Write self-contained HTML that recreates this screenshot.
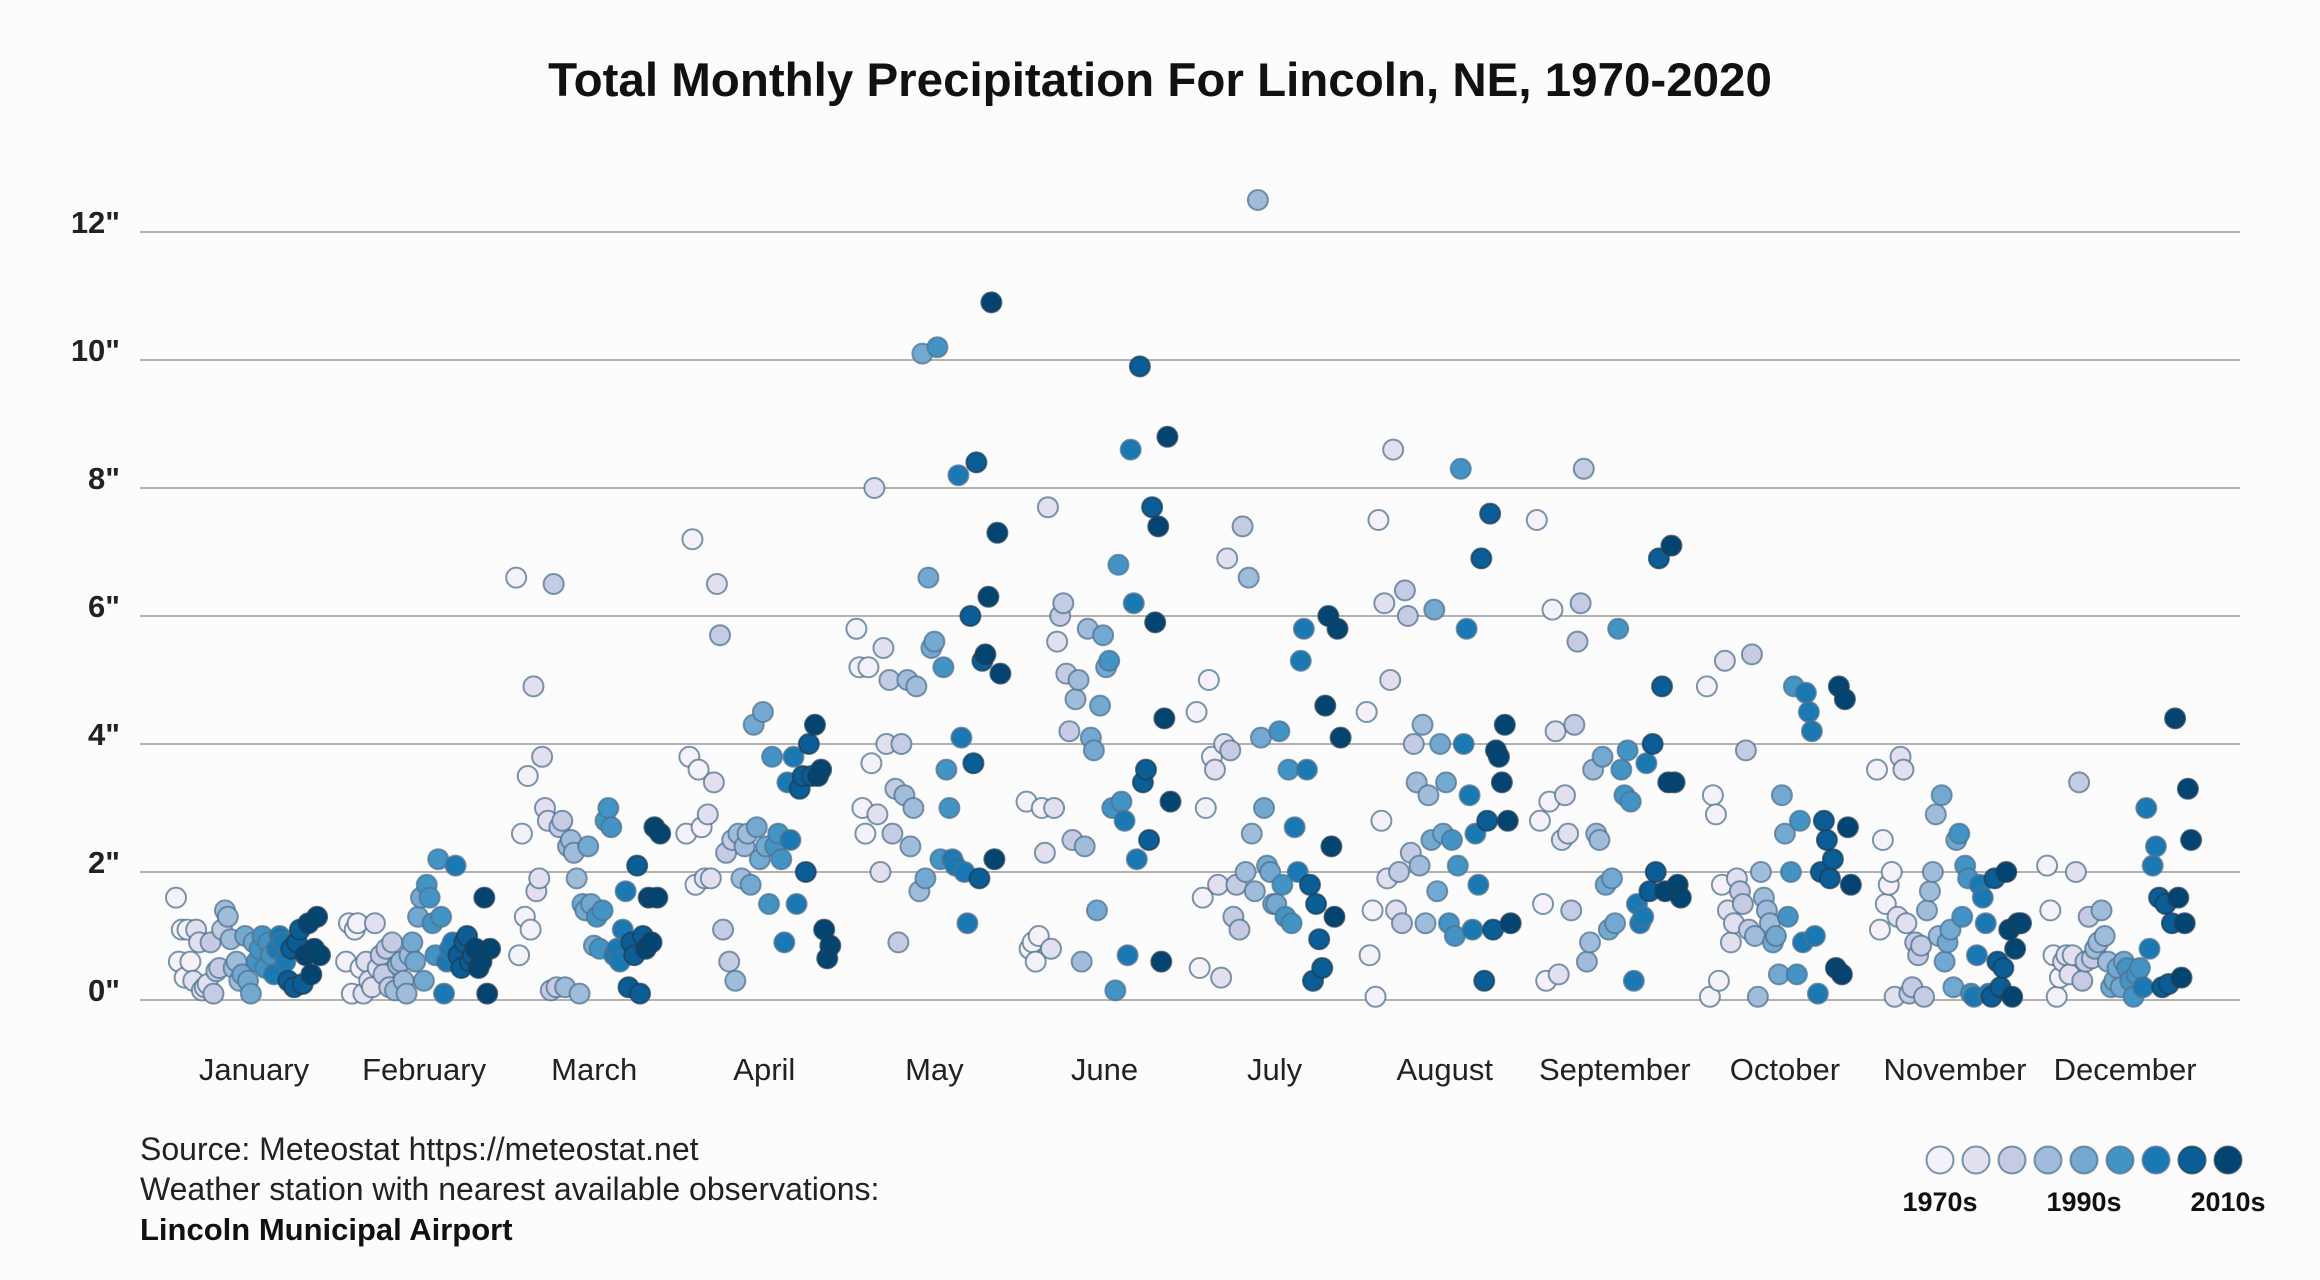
<!DOCTYPE html>
<html><head><meta charset="utf-8"><style>
html,body{margin:0;padding:0;background:#fdfcfc;}
svg{display:block;font-family:"Liberation Sans",sans-serif;}
</style></head><body>
<svg id="chart" width="2320" height="1280" viewBox="0 0 2320 1280" xmlns="http://www.w3.org/2000/svg">
<rect width="2320" height="1280" fill="#fdfcfc"/>
<text x="1160" y="96" text-anchor="middle" font-size="47.5" font-weight="bold" fill="#111">Total Monthly Precipitation For Lincoln, NE, 1970-2020</text>
<g id="grid"></g>
<g id="points"></g>
<g id="xlabels"></g>
<text x="140" y="1160" font-size="32" fill="#222">Source: Meteostat https://meteostat.net</text>
<text x="140" y="1200" font-size="32" fill="#222">Weather station with nearest available observations:</text>
<text x="140" y="1240" font-size="31" font-weight="bold" fill="#111">Lincoln Municipal Airport</text>
<g id="legend"></g>
</svg>
<script>
const months = ["January","February","March","April","May","June","July","August","September","October","November","December"];
const yTicks = [0,2,4,6,8,10,12];
const yTickLabels = ['0"','2"','4"','6"','8"','10"','12"'];
const decadeLabels = ["1970s","1990s","2010s"];
const palette = ["#f4f1f8","#e2e0ef","#c5cbe3","#a0bcdb","#73a9d0","#4394c4","#1a78b3","#0a5e95","#034470"];
const jan = [1.6,0.6,1.1,0.35,1.1,0.6,0.3,1.1,0.9,0.15,0.2,0.25,0.9,0.1,0.45,0.5,1.1,1.4,1.3,0.95,0.5,0.6,0.3,0.4,1.0,0.3,0.1,0.9,0.6,0.8,1.0,0.5,0.9,0.7,0.4,0.8,1.0,0.9,0.6,0.3,0.8,0.2,0.9,1.1,0.25,0.7,1.2,0.4,0.8,1.3,0.7];
const feb = [0.6,1.2,0.1,1.1,1.2,0.5,0.1,0.6,0.3,0.2,1.2,0.5,0.7,0.4,0.8,0.2,0.9,0.15,0.55,0.6,0.3,0.1,0.7,0.9,0.6,1.3,1.6,0.3,1.8,1.6,1.2,0.7,2.2,1.3,0.1,0.6,0.8,0.9,2.1,0.7,0.5,0.9,1.0,0.6,0.7,0.8,0.5,0.6,1.6,0.1,0.8];
const mar = [6.6,0.7,2.6,1.3,3.5,1.1,4.9,1.7,1.9,3.8,3.0,2.8,0.15,6.5,0.2,2.7,2.8,0.2,2.4,2.5,2.3,1.9,0.1,1.5,1.4,2.4,1.5,0.85,1.3,0.8,1.4,2.8,3.0,2.7,0.7,0.8,0.6,1.1,1.7,0.2,0.9,0.7,2.1,0.1,1.0,0.8,1.6,0.9,2.7,1.6,2.6];
const apr = [2.6,3.8,7.2,1.8,3.6,2.7,1.9,2.9,1.9,3.4,6.5,5.7,1.1,2.3,0.6,2.5,0.3,2.6,1.9,2.4,2.6,1.8,4.3,2.7,2.2,4.5,2.4,1.5,3.8,2.4,2.6,2.2,0.9,3.4,2.5,3.8,1.5,3.3,3.5,2.0,4.0,3.5,4.3,3.5,3.6,1.1,0.65,0.85];
const may = [5.8,5.2,3.0,2.6,5.2,3.7,8.0,2.9,2.0,5.5,4.0,5.0,2.6,3.3,0.9,4.0,3.2,5.0,2.4,3.0,4.9,1.7,10.1,1.9,6.6,5.5,5.6,10.2,2.2,5.2,3.6,3.0,2.2,2.1,8.2,4.1,2.0,1.2,6.0,3.7,8.4,1.9,5.3,5.4,6.3,10.9,2.2,7.3,5.1];
const jun = [3.1,0.8,0.9,0.6,1.0,3.0,2.3,7.7,0.8,3.0,5.6,6.0,6.2,5.1,4.2,2.5,4.7,5.0,0.6,2.4,5.8,4.1,3.9,1.4,4.6,5.7,5.2,5.3,3.0,0.15,6.8,3.1,2.8,0.7,8.6,6.2,2.2,9.9,3.4,3.6,2.5,7.7,5.9,7.4,0.6,4.4,8.8,3.1];
const jul = [4.5,0.5,1.6,3.0,5.0,3.8,3.6,1.8,0.35,4.0,6.9,3.9,1.3,1.8,1.1,7.4,2.0,6.6,2.6,1.7,12.5,4.1,3.0,2.1,2.0,1.5,1.5,4.2,1.8,1.3,3.6,1.2,2.7,2.0,5.3,5.8,3.6,1.8,0.3,1.5,0.95,0.5,4.6,6.0,2.4,1.3,5.8,4.1];
const aug = [4.5,0.7,1.4,0.05,7.5,2.8,6.2,1.9,5.0,8.6,1.4,2.0,1.2,6.4,6.0,2.3,4.0,3.4,2.1,4.3,1.2,3.2,2.5,6.1,1.7,4.0,2.6,3.4,1.2,2.5,1.0,2.1,8.3,4.0,5.8,3.2,1.1,2.6,1.8,6.9,0.3,2.8,7.6,1.1,3.9,3.8,3.4,4.3,2.8,1.2];
const sep = [7.5,2.8,1.5,0.3,3.1,6.1,4.2,0.4,2.5,3.2,2.6,1.4,4.3,5.6,6.2,8.3,0.6,0.9,3.6,2.6,2.5,3.8,1.8,1.1,1.9,1.2,5.8,3.6,3.2,3.9,3.1,0.3,1.5,1.2,1.3,3.7,1.7,4.0,2.0,6.9,4.9,1.7,3.4,7.1,3.4,1.8,1.6];
const oct = [4.9,0.05,3.2,2.9,0.3,1.8,5.3,1.4,0.9,1.2,1.9,1.7,1.5,3.9,1.1,5.4,1.0,0.05,2.0,1.6,1.4,1.2,0.9,1.0,0.4,3.2,2.6,1.3,2.0,4.9,0.4,2.8,0.9,4.8,4.5,4.2,1.0,0.1,2.0,2.8,2.5,1.9,2.2,0.5,4.9,0.4,4.7,2.7,1.8];
const nov = [3.6,1.1,2.5,1.5,1.8,2.0,0.05,1.3,3.8,3.6,1.2,0.1,0.2,0.9,0.7,0.85,0.05,1.4,1.7,2.0,2.9,1.0,3.2,0.6,0.9,1.1,0.2,2.5,2.6,1.3,2.1,1.9,0.1,0.05,0.7,1.8,1.6,1.2,0.1,0.05,1.9,0.6,0.2,0.5,2.0,1.1,0.05,0.8,1.2,1.2];
const dec = [2.1,1.4,0.7,0.05,0.35,0.6,0.7,0.4,0.7,2.0,3.4,0.3,0.6,1.3,0.65,0.8,0.9,1.4,1.0,0.6,0.2,0.3,0.5,0.2,0.6,0.5,0.3,0.05,0.4,0.5,0.2,3.0,0.8,2.1,2.4,1.6,0.2,1.5,0.25,1.2,4.4,1.6,0.35,1.2,3.3,2.5];
const series = [jan,feb,mar,apr,may,jun,jul,aug,sep,oct,nov,dec];

const NS = "http://www.w3.org/2000/svg";
const plotL = 140, plotR = 2240, y0 = 1000, pxPerInch = 64;
const firstMonthX = 254, monthStep = 170.1, halfBand = 72;
function yScale(v){ return y0 - v * pxPerInch; }
function xMonth(m){ return firstMonthX + m * monthStep; }
function mk(tag, attrs){ const e = document.createElementNS(NS, tag); for (const k in attrs) e.setAttribute(k, attrs[k]); return e; }

const grid = document.getElementById('grid');
yTicks.forEach((t, i) => {
  const y = yScale(t);
  const ln = mk('line', {x1: plotL, x2: plotR, y1: y, y2: y, stroke: '#9a9a9a', 'stroke-width': 1.5});
  
  
  grid.appendChild(ln);
  const tx = mk('text', {x: 120, y: y + 1, 'text-anchor': 'end', 'font-size': 31, 'font-weight': 'bold', fill: '#222'});
  tx.textContent = yTickLabels[i];
  
  
  grid.appendChild(tx);
});

const xl = document.getElementById('xlabels');
months.forEach((m, i) => {
  const tx = mk('text', {x: xMonth(i), y: 1080, 'text-anchor': 'middle', 'font-size': 31, fill: '#222'});
  tx.textContent = m;
  
  
  xl.appendChild(tx);
});

const pts = document.getElementById('points');
series.forEach((vals, m) => {
  const n = vals.length;
  vals.forEach((v, i) => {
    const t = n > 1 ? i / (n - 1) : 0;
    const ci = Math.min(8, Math.floor(t * 9));
    const c = mk('circle', {cx: xMonth(m) - 6 + (t * 2 - 1) * halfBand, cy: yScale(v), r: 10,
      fill: palette[ci], stroke: ci >= 7 ? '#1d3f5a' : '#4f7390', 'stroke-width': 2, 'stroke-opacity': 0.75});
    
    
    pts.appendChild(c);
  });
});

const lg = document.getElementById('legend');
palette.forEach((col, i) => {
  const c = mk('circle', {cx: 1940 + i * 36, cy: 1160, r: 13.5, fill: col, stroke: i >= 7 ? '#1d3f5a' : '#4f7390', 'stroke-width': 2, 'stroke-opacity': 0.75});
  
  
  lg.appendChild(c);
});
decadeLabels.forEach((d, i) => {
  const tx = mk('text', {x: 1940 + i * 144, y: 1211, 'text-anchor': 'middle', 'font-size': 27, 'font-weight': 'bold', fill: '#111'});
  tx.textContent = d;
  
  
  lg.appendChild(tx);
});
</script>
</body></html>
